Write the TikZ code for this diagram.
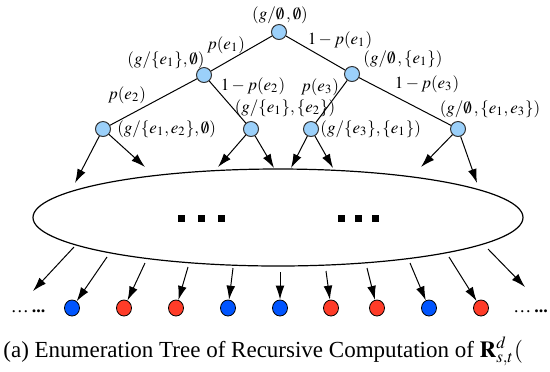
\documentclass[tikz,border=0pt]{standalone}
\usepackage{mathptmx}
\usepackage{fontspec}
\setmainfont{Liberation Serif}
\usetikzlibrary{arrows.meta,shapes.geometric}
\definecolor{treeblue}{RGB}{155,208,250}
\definecolor{leafblue}{RGB}{0,85,255}
\definecolor{leafred}{RGB}{255,60,40}

\begin{document}
\begin{tikzpicture}[x=0.5pt,y=-0.5pt,
    tnode/.style={circle,draw=black!80,fill=treeblue,line width=0.5pt,minimum size=7.5pt,inner sep=0pt},
    leaf/.style={ellipse,draw=black,line width=0.4pt,minimum width=7.5pt,minimum height=8pt,inner sep=0pt},
    lbl/.style={font=\fontsize{8.5}{10}\selectfont,inner sep=0pt},
    arr/.style={-{Latex[length=7pt,width=4.4pt]},line width=0.5pt},
    dotsq/.style={fill=black,minimum size=3.5pt,inner sep=0pt}]
    \useasboundingbox (0,0) rectangle (550,371);
    \clip (0,0) rectangle (550,371);

    % tree
    \node[tnode](r) at (279,32){};
    \node[tnode](a) at (204,75){};
    \node[tnode](b) at (352,74){};
    \node[tnode](aa) at (103,129){};
    \node[tnode](ab) at (251,129){};
    \node[tnode](ba) at (311,129){};
    \node[tnode](bb) at (458,129){};
    \draw[line width=0.5pt](r)--(a);
    \draw[line width=0.5pt](r)--(b);
    \draw[line width=0.5pt](a)--(aa);
    \draw[line width=0.5pt](a)--(ab);
    \draw[line width=0.5pt](b)--(ba);
    \draw[line width=0.5pt](b)--(bb);

    \node[lbl](lr) at (280,15){$(g/\emptyset\,,\emptyset)$};
    \node[lbl](la) at (166,60){$(g/\{e_1\},\emptyset)$};
    \node[lbl](lb) at (403,59){$(g/\emptyset\,,\{e_1\})$};
    \node[lbl](lab) at (285,108){$(g/\{e_1\},\{e_2\})$};
    \node[lbl,anchor=west](laa) at (117,129){$(g/\{e_1,e_2\},\emptyset)$};
    \node[lbl,anchor=west](lba) at (320,129){$(g/\{e_3\},\{e_1\})$};
    \node[lbl](lbb) at (490,109){$(g/\emptyset\,,\{e_1,e_3\})$};
    \node[lbl](p1) at (226,45){$p(e_1)$};
    \node[lbl](q1) at (340,40){$1-p(e_1)$};
    \node[lbl](p2) at (127,95){$p(e_2)$};
    \node[lbl](q2) at (253,86){$1-p(e_2)$};
    \node[lbl](p3) at (320,87){$p(e_3)$};
    \node[lbl](q3) at (427,84){$1-p(e_3)$};

    % the rest of the tree
    \node[draw,ellipse,line width=0.6pt,minimum width=245pt,minimum height=48.5pt,inner sep=0pt](ell) at (278,217.5){};
    \foreach \i/\x in {1/181,2/201,3/221,4/341,5/358,6/375}
        \node[dotsq](d\i) at (\x,218){};

    \coordinate(ta) at (75,183);
    \coordinate(tb) at (145,167);
    \coordinate(tc) at (218,167);
    \coordinate(td) at (274,168);
    \coordinate(te) at (291,168);
    \coordinate(tf) at (333,168);
    \coordinate(tg) at (421,167);
    \coordinate(th) at (477,183);
    \draw[arr](aa)--(ta);
    \draw[arr](aa)--(tb);
    \draw[arr](ab)--(tc);
    \draw[arr](ab)--(td);
    \draw[arr](ba)--(te);
    \draw[arr](ba)--(tf);
    \draw[arr](bb)--(tg);
    \draw[arr](bb)--(th);

    % leaves
    \foreach \i/\x/\c in {1/72/leafblue,2/124/leafred,3/176/leafred,4/228/leafblue,5/280/leafblue,
                          6/331/leafred,7/377/leafred,8/429/leafblue,9/481/leafred}
        \node[leaf,fill=\c](l\i) at (\x,308){};
    \node[lbl,font=\fontsize{9}{10}\selectfont](ldots) at (28,311){\ldots\,\textbf{...}};
    \node[lbl,font=\fontsize{9}{10}\selectfont,anchor=west](rdots) at (513,311){\ldots\,\textbf{...}};

    \coordinate(s0) at (74,247);
    \coordinate(s1) at (107,257);
    \coordinate(s2) at (145,263);
    \coordinate(s3) at (188,267);
    \coordinate(s4) at (233,268);
    \coordinate(s5) at (280,272);
    \coordinate(s6) at (326,271);
    \coordinate(s7) at (367,268);
    \coordinate(s8) at (410,263);
    \coordinate(s9) at (449,257);
    \coordinate(s10) at (488,249);
    \coordinate(e0) at (33,291);
    \coordinate(e10) at (525,287);
    \draw[arr](s0)--(e0);
    \foreach \i in {1,...,9}
        \draw[arr](s\i)--(l\i);
    \draw[arr](s10)--(e10);

    \node[anchor=base west,inner sep=0pt,font=\fontsize{11.5}{13}\selectfont](cap) at (3,357)
        {(a) Enumeration Tree of Recursive Computation of $\mathbf{R}^d_{s,t}($};
\end{tikzpicture}
\end{document}
